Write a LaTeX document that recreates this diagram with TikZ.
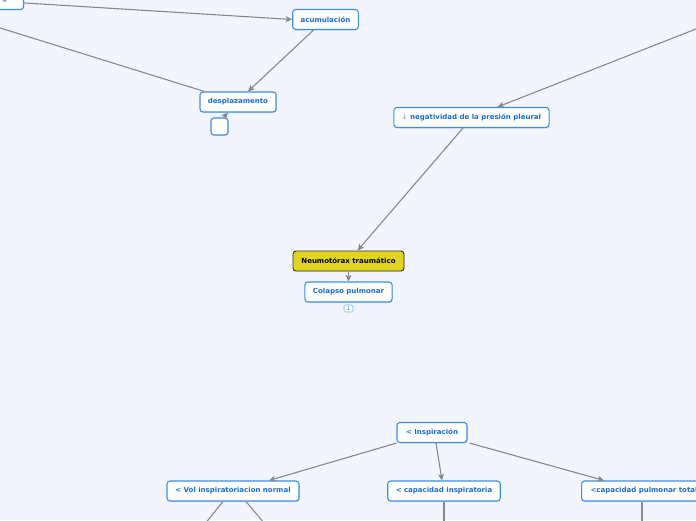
\documentclass[tikz,border=0pt]{standalone}
\usepackage{fontspec}
\setmainfont{DejaVu Sans}
\usetikzlibrary{arrows.meta,shadows}
\definecolor{bgc}{RGB}{242,245,253}
\definecolor{bordc}{RGB}{60,142,228}
\definecolor{txtc}{RGB}{28,108,212}
\definecolor{edgec}{RGB}{136,136,140}
\definecolor{yelc}{RGB}{224,212,30}
\tikzset{
  mbox/.style={draw=bordc, line width=1.1pt, fill=white, rounded corners=3pt,
    text=txtc, font=\fontsize{7}{8}\selectfont\bfseries, minimum height=20pt,
    inner xsep=8pt, inner ysep=2pt,
    drop shadow={opacity=0.18, shadow xshift=0.8pt, shadow yshift=-1pt}},
  mainbox/.style={mbox, draw=black!80, line width=0.9pt, fill=yelc, text=black},
  conn/.style={draw=edgec, line width=1.1pt},
  arr/.style={conn, -{Stealth[length=6.5pt,width=6pt,inset=1.5pt]}},
}
\begin{document}
\begin{tikzpicture}[x=1pt,y=-1pt]
\path[use as bounding box, fill=bgc] (0,0) rectangle (696,520);
\clip (0,0) rectangle (696,520);
% nodes
\node[mbox, anchor=south east] (sangre) at (24,10) {sangre};
\node[mbox, minimum width=65pt] (acum) at (325.5,19.5) {acumulación};
\node[mbox, minimum width=76pt] (desp) at (238,102) {desplazamento};
\node[mbox, minimum width=17pt, minimum height=17pt, inner sep=0pt] (small) at (219.5,126.5) {};
\node[mbox, minimum width=151pt] (neg) at (471.5,117.5) {{\color{txtc!55}↓} negatividad de la presión pleural};
\node[mainbox, minimum width=111pt] (neumo) at (348.5,261) {Neumotórax traumático};
\node[mbox, minimum width=87pt] (colapso) at (348.5,292) {Colapso pulmonar};
\node[draw=bordc!70, line width=0.6pt, fill=white, rounded corners=1.5pt, text=txtc,
  font=\fontsize{5}{5}\selectfont, minimum width=9pt, minimum height=7pt, inner sep=0pt] (badge) at (348.5,308.5) {1};
\node[mbox, minimum width=70pt] (insp) at (432,432.5) {< Inspiración};
\node[mbox, minimum width=132pt] (vol) at (233,491) {< Vol inspiratoriacion normal};
\node[mbox, minimum width=112pt] (capins) at (444,491) {< capacidad inspiratoria};
\node[mbox, anchor=west, inner xsep=9pt] (pulm) at (581,491) {<capacidad pulmonar total};
% free ends
\coordinate (offL) at (-40,15.5);
\coordinate (offTR) at (740,11.7);
\coordinate (v1) at (200,530);
\coordinate (v2) at (270,530);
\coordinate (c1) at (444,530);
\coordinate (p1) at (642,530);
% connectors
\draw[arr] ([yshift=-3.5pt]sangre.east) -- (acum.west);
\draw[arr] ([xshift=-12pt]acum.south) -- ([xshift=10pt]desp.north);
\draw[conn] (offL) -- ([xshift=5pt]desp.north west);
\draw[arr] ([xshift=4pt]small.north) -- ([xshift=-10pt]desp.south);
\draw[arr] (offTR) -- ([xshift=26pt]neg.north);
\draw[arr] ([xshift=-8.5pt]neg.south) -- ([xshift=9pt]neumo.north);
\draw[arr] (neumo.south) -- (colapso.north);
\draw[arr] (insp.south west) -- ([xshift=36pt]vol.north);
\draw[arr] ([xshift=4pt]insp.south) -- ([xshift=-2pt]capins.north);
\draw[arr] ([xshift=2pt]insp.south east) -- ([xshift=23pt]pulm.north west);
\draw[conn] ([xshift=-10pt]vol.south) -- (v1);
\draw[conn] ([xshift=13pt]vol.south) -- (v2);
\draw[conn] (capins.south) -- (c1);
\draw[conn] ([xshift=61pt]pulm.south west) -- (p1);
\end{tikzpicture}
\end{document}
